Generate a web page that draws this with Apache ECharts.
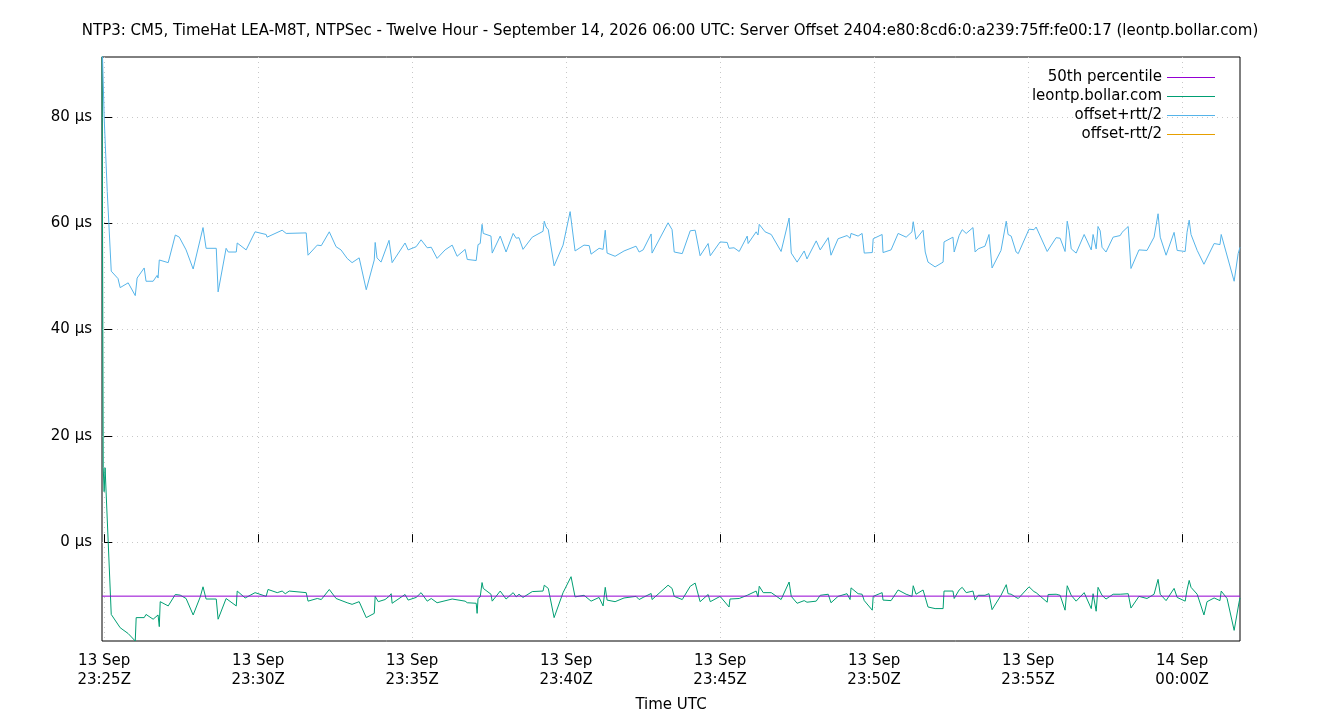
<!DOCTYPE html>
<html><head><meta charset="utf-8">
<script src="https://cdn.jsdelivr.net/npm/echarts@6/dist/echarts.min.js"></script>
<style>html,body{margin:0;padding:0;background:#fff}#c{width:1340px;height:720px}</style>
</head><body><div id="c"></div>
<script>
// time in minutes after 13 Sep 23:25 UTC, values in µs
const xTickMinutes = [0,5,10,15,20,25,30,35];
const xTickLabels = ["13 Sep\n23:25Z","13 Sep\n23:30Z","13 Sep\n23:35Z","13 Sep\n23:40Z","13 Sep\n23:45Z","13 Sep\n23:50Z","13 Sep\n23:55Z","14 Sep\n00:00Z"];
const yTicks = [0,20,40,60,80];
const percentile50 = -10.16;
const offsetPlus = [[-0.07,95],[0.0,80],[0.1,66],[0.23,51.0],[0.45,49.6],[0.52,47.9],[0.78,48.8],[1.01,46.4],[1.07,49.7],[1.30,51.6],[1.36,49.1],[1.59,49.1],[1.72,50.2],[1.75,49.7],[1.79,53.1],[2.08,52.6],[2.31,57.8],[2.44,57.4],[2.66,55.0],[2.89,51.4],[3.21,59.2],[3.31,55.3],[3.64,55.3],[3.70,47.1],[3.96,55.3],[4.03,54.6],[4.29,54.6],[4.32,56.3],[4.61,55.0],[4.90,58.4],[5.26,57.9],[5.29,57.4],[5.78,58.7],[5.91,58.1],[6.56,58.2],[6.62,54.0],[6.92,55.9],[7.05,55.8],[7.31,58.4],[7.53,55.6],[7.69,55.0],[7.89,53.4],[8.05,52.6],[8.28,53.5],[8.51,47.5],[8.77,53.1],[8.80,56.4],[8.86,53.5],[8.99,52.7],[9.25,56.8],[9.35,52.6],[9.77,56.3],[9.87,55.0],[10.13,55.6],[10.29,56.9],[10.49,55.4],[10.62,55.5],[10.81,53.4],[11.07,55.0],[11.30,55.9],[11.46,53.8],[11.72,55.1],[11.79,53.2],[12.08,53.0],[12.14,56.0],[12.21,56.2],[12.27,59.8],[12.31,58.1],[12.56,57.6],[12.60,54.4],[12.86,57.6],[13.05,54.6],[13.28,58.1],[13.38,57.2],[13.47,57.3],[13.60,55.1],[13.90,57.4],[14.25,58.5],[14.29,60.4],[14.35,59.3],[14.42,58.8],[14.61,52.0],[14.90,55.9],[15.13,62.2],[15.19,62.0],[15.29,54.8],[15.58,55.9],[15.75,55.8],[15.81,54.2],[16.07,55.3],[16.20,55.1],[16.27,58.7],[16.33,54.4],[16.59,53.8],[16.88,54.8],[17.27,55.7],[17.37,54.6],[17.50,55.0],[17.76,58.0],[17.79,54.4],[18.31,60.1],[18.44,58.8],[18.51,54.6],[18.77,54.3],[19.03,58.6],[19.19,58.7],[19.35,53.9],[19.61,56.2],[19.68,53.9],[20.00,56.5],[20.23,56.4],[20.29,55.3],[20.45,55.4],[20.62,54.7],[20.88,57.6],[20.91,56.2],[21.17,58.4],[21.23,57.8],[21.27,59.8],[21.46,58.4],[21.66,57.9],[21.98,54.7],[22.24,61.0],[22.31,54.4],[22.50,52.7],[22.73,54.8],[22.82,53.3],[23.12,56.7],[23.25,55.0],[23.51,57.3],[23.60,54.0],[23.83,57.1],[24.12,57.7],[24.22,57.2],[24.25,58.1],[24.48,57.6],[24.61,58.1],[24.68,54.4],[24.94,54.5],[24.97,57.1],[25.26,57.9],[25.29,54.5],[25.55,55.0],[25.78,58.1],[26.04,57.4],[26.23,58.4],[26.27,60.3],[26.36,57.0],[26.59,58.7],[26.66,54.6],[26.75,52.7],[26.98,51.8],[27.24,52.7],[27.27,56.5],[27.56,57.4],[27.60,54.6],[27.76,57.7],[27.86,58.8],[27.99,58.1],[28.21,59.2],[28.28,54.6],[28.38,55.2],[28.60,55.7],[28.73,57.9],[28.83,51.6],[29.12,54.9],[29.29,60.4],[29.35,57.9],[29.45,57.6],[29.61,54.6],[29.68,54.3],[30.03,58.9],[30.19,58.8],[30.26,59.3],[30.62,54.7],[30.91,57.3],[31.04,57.2],[31.20,54.7],[31.27,60.4],[31.33,58.6],[31.40,55.2],[31.56,54.4],[31.82,57.9],[32.05,55.0],[32.11,57.9],[32.21,55.2],[32.27,59.4],[32.34,58.6],[32.40,55.5],[32.53,54.6],[32.76,57.4],[32.99,57.7],[33.05,58.3],[33.25,59.4],[33.34,51.5],[33.60,55.0],[33.86,54.9],[34.09,57.4],[34.22,61.8],[34.29,57.4],[34.48,54.0],[34.74,58.3],[34.84,54.9],[35.10,54.7],[35.16,58.3],[35.23,60.6],[35.29,57.9],[35.49,54.9],[35.71,52.3],[36.04,56.2],[36.23,56.0],[36.27,57.9],[36.69,49.1],[36.82,54.3],[36.88,55.5]];
const offsetLeontp = [[-0.07,95],[-0.03,14],[0.0,9.5],[0.03,14],[0.23,-13.6],[0.52,-16.1],[0.78,-17.2],[1.01,-18.6],[1.04,-14.2],[1.30,-14.2],[1.36,-13.6],[1.59,-14.5],[1.75,-13.7],[1.79,-15.9],[1.82,-11.2],[2.08,-12.0],[2.31,-9.85],[2.47,-9.97],[2.66,-10.6],[2.89,-13.7],[3.12,-10.3],[3.21,-8.4],[3.31,-10.7],[3.64,-10.7],[3.70,-14.5],[3.96,-10.6],[4.29,-12.0],[4.32,-9.2],[4.58,-10.5],[4.90,-9.5],[5.26,-10.2],[5.32,-8.9],[5.62,-9.5],[5.78,-9.2],[5.88,-9.7],[6.01,-9.2],[6.56,-9.5],[6.62,-11.1],[6.92,-10.6],[7.05,-10.8],[7.31,-8.9],[7.53,-10.6],[7.89,-11.4],[8.05,-11.7],[8.28,-11.2],[8.51,-14.2],[8.77,-13.4],[8.80,-10.2],[8.90,-11.2],[9.12,-10.8],[9.25,-10.2],[9.32,-9.7],[9.35,-11.5],[9.77,-9.85],[9.87,-10.9],[10.13,-10.4],[10.29,-9.5],[10.49,-11.1],[10.62,-10.6],[10.81,-11.4],[11.30,-10.7],[11.72,-11.1],[11.79,-11.4],[12.08,-11.5],[12.11,-13.4],[12.14,-10.6],[12.21,-10.3],[12.27,-7.6],[12.31,-8.7],[12.56,-9.8],[12.60,-11.1],[12.86,-9.2],[13.05,-10.7],[13.28,-9.5],[13.38,-10.3],[13.47,-9.8],[13.60,-10.4],[13.90,-9.3],[14.25,-9.2],[14.29,-8.1],[14.42,-8.7],[14.61,-14.2],[14.90,-9.5],[15.16,-6.5],[15.29,-10.3],[15.58,-10.0],[15.81,-11.1],[16.07,-10.4],[16.20,-12.0],[16.27,-8.5],[16.33,-10.9],[16.59,-11.2],[16.88,-10.5],[17.27,-10.2],[17.37,-10.8],[17.50,-10.4],[17.76,-9.66],[17.79,-10.8],[18.31,-8.1],[18.44,-8.7],[18.51,-10.2],[18.54,-10.3],[18.77,-10.8],[19.03,-8.3],[19.19,-7.7],[19.35,-11.2],[19.61,-9.85],[19.68,-11.2],[20.00,-10.2],[20.29,-12.2],[20.32,-10.7],[20.62,-10.6],[20.88,-10.0],[21.17,-9.2],[21.23,-10.3],[21.27,-8.3],[21.40,-9.5],[21.66,-9.5],[21.98,-10.8],[22.24,-7.5],[22.31,-10.2],[22.50,-11.5],[22.73,-11.0],[22.82,-11.3],[23.12,-11.1],[23.25,-10.0],[23.51,-9.8],[23.60,-11.4],[23.83,-10.2],[24.12,-9.7],[24.22,-10.8],[24.25,-8.6],[24.48,-9.7],[24.61,-9.8],[24.68,-11.0],[24.94,-12.8],[24.97,-10.2],[25.26,-9.5],[25.29,-10.9],[25.55,-11.0],[25.78,-9.0],[26.04,-9.8],[26.23,-10.2],[26.27,-8.2],[26.36,-9.8],[26.59,-9.0],[26.66,-10.4],[26.75,-12.2],[26.98,-12.5],[27.24,-12.5],[27.27,-9.2],[27.56,-9.2],[27.60,-10.6],[27.76,-9.0],[27.86,-8.5],[27.99,-9.5],[28.21,-9.2],[28.28,-10.9],[28.38,-10.0],[28.60,-10.0],[28.73,-9.7],[28.83,-12.7],[29.12,-10.0],[29.29,-8.0],[29.35,-9.7],[29.45,-9.8],[29.61,-10.4],[29.68,-10.6],[30.03,-8.4],[30.19,-9.3],[30.26,-9.5],[30.62,-11.3],[30.65,-9.85],[30.91,-9.8],[31.04,-10.0],[31.20,-12.8],[31.27,-8.2],[31.40,-10.0],[31.56,-11.1],[31.82,-9.5],[32.05,-12.5],[32.11,-9.7],[32.21,-13.0],[32.27,-8.5],[32.40,-10.0],[32.53,-10.7],[32.76,-9.8],[32.99,-9.8],[33.05,-9.5],[33.25,-9.7],[33.34,-12.4],[33.60,-10.2],[33.86,-10.6],[34.09,-9.8],[34.22,-7.0],[34.29,-9.8],[34.48,-11.0],[34.74,-8.7],[34.84,-10.4],[35.10,-11.1],[35.16,-9.0],[35.23,-7.2],[35.29,-8.5],[35.49,-9.8],[35.71,-13.7],[35.81,-11.2],[36.04,-10.5],[36.23,-11.0],[36.27,-9.2],[36.46,-10.6],[36.69,-16.6],[36.85,-11.3],[36.88,-10.5]];
const offsetMinus = [];
const xMin = -0.07, xMax = 36.88, yMin = -18.6, yMax = 91.3;

const F = 'DejaVu Sans';
const chart = echarts.init(document.getElementById('c'));
chart.setOption({
  animation:false,
  backgroundColor:'#fff',
  title:{text:'NTP3: CM5, TimeHat LEA-M8T, NTPSec - Twelve Hour - September 14, 2026 06:00 UTC: Server Offset 2404:e80:8cd6:0:a239:75ff:fe00:17 (leontp.bollar.com)',
    left:'center', top:19, textStyle:{fontFamily:F,fontSize:15,fontWeight:'normal',color:'#000'}},
  grid:{left:102,right:100,top:57,bottom:79,show:true,borderColor:'#000',borderWidth:1,backgroundColor:'transparent'},
  legend:{right:120,top:65,orient:'vertical',align:'right',itemWidth:48,itemHeight:14,itemGap:4,
    textStyle:{fontFamily:F,fontSize:15,color:'#000'},icon:'path://M0,7L48,7L48,8L0,8Z',
    data:['50th percentile','leontp.bollar.com','offset+rtt/2','offset-rtt/2']},
  xAxis:{type:'value',min:xMin,max:xMax,name:'Time UTC',nameLocation:'middle',nameGap:57,
    nameTextStyle:{fontFamily:F,fontSize:15,color:'#000'},
    axisLine:{show:false},
    axisTick:{inside:true,length:8,lineStyle:{color:'#000'},customValues:xTickMinutes},
    axisLabel:{customValues:xTickMinutes,fontFamily:F,fontSize:15,color:'#000',lineHeight:19,margin:11,
      formatter:v=>{const i=xTickMinutes.findIndex(t=>Math.abs(t-v)<1e-6);return i>=0?xTickLabels[i]:'';}},
    splitLine:{show:true,lineStyle:{color:'#c8c8c8',type:[1,4]}}},
  yAxis:{type:'value',min:yMin,max:yMax,
    axisLine:{show:false},
    axisTick:{inside:true,length:8,lineStyle:{color:'#000'},customValues:yTicks},
    axisLabel:{customValues:yTicks,fontFamily:F,fontSize:15,color:'#000',margin:10,formatter:v=>v+' µs'},
    splitLine:{show:true,lineStyle:{color:'#c8c8c8',type:[1,4]}}},
  series:[
    {name:'50th percentile',type:'line',z:5,symbol:'none',color:'#9400d3',lineStyle:{width:1},data:[[xMin,percentile50],[xMax,percentile50]]},
    {name:'leontp.bollar.com',type:'line',z:3,symbol:'none',color:'#009e73',lineStyle:{width:1},data:offsetLeontp,clip:true},
    {name:'offset+rtt/2',type:'line',z:3,symbol:'none',color:'#56b4e9',lineStyle:{width:1},data:offsetPlus,clip:true},
    {name:'offset-rtt/2',type:'line',z:3,symbol:'none',color:'#e69f00',lineStyle:{width:1},data:offsetMinus}
  ]
});
</script></body></html>
